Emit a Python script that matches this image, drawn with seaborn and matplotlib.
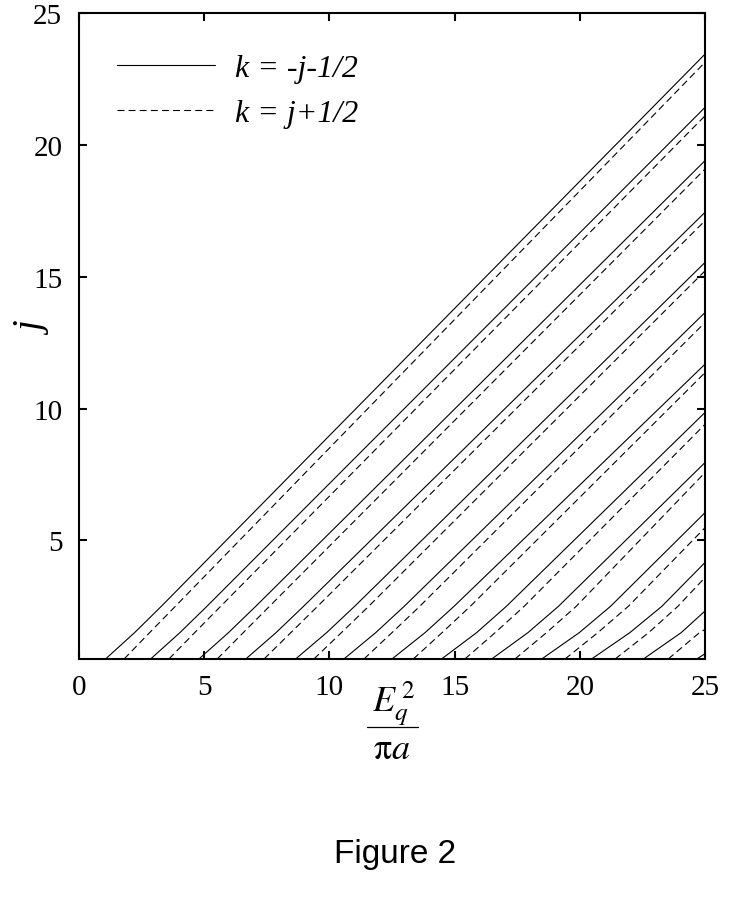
import numpy as np
import pandas as pd
import matplotlib
matplotlib.use("Agg")
import matplotlib.pyplot as plt
from matplotlib.lines import Line2D
import seaborn as sns

nan = np.nan
# j levels of the read vertices
j_levels = [0.5, 1.5, 2.5]

# k = -j-1/2 (solid): x at j=0.5, 1.5, 2.5 and j at the right edge (x=25)
solid_x0 = [1.06, 2.86, 4.79, 6.66, 8.65, 10.58, 12.50, 14.48, 16.48, 18.48, 20.47, 22.54, 24.67]
solid_x1 = [2.22, 4.03, 5.97, 7.87, 9.89, 11.85, 13.82, 15.88, 17.93, 19.98, 22.00, 24.05, nan]
solid_x2 = [3.29, 5.11, 7.06, 8.97, 11.01, 12.99, 14.98, 17.07, 19.15, 21.23, 23.28, nan, nan]
solid_jend = [23.44, 21.42, 19.40, 17.44, 15.54, 13.64, 11.68, 9.85, 7.95, 6.05, 4.16, 2.32, 0.70]

# k = j+1/2 (dashed)
dashed_x0 = [1.80, 3.59, 5.52, 7.39, 9.38, 11.38, 13.35, 15.41, 17.41, 19.41, 21.41, 23.53]
dashed_x1 = [2.82, 4.62, 6.56, 8.46, 10.48, 12.50, 14.50, 16.62, 18.67, 20.72, 22.75, 24.78]
dashed_x2 = [3.85, 5.66, 7.61, 9.53, 11.57, 13.61, 15.63, 17.78, 19.86, 21.94, 23.92, nan]
dashed_jend = [23.13, 21.10, 19.08, 17.12, 15.22, 13.26, 11.36, 9.40, 7.57, 5.48, 3.59, 1.62]

x_edge = 25.0
labels = ["k = -j-1/2", "k = j+1/2"]
x_ticks = [0, 5, 10, 15, 20, 25]
y_ticks = [5, 10, 15, 20, 25]

rows = []
def add_family(name, xs0, xs1, xs2, jend):
    for i in range(len(xs0)):
        cid = f"{name}{i}"
        for xv, jv in zip((xs0[i], xs1[i], xs2[i]), j_levels):
            if not np.isnan(xv):
                rows.append((xv, jv, cid, name))
        rows.append((x_edge, jend[i], cid, name))

add_family("solid", solid_x0, solid_x1, solid_x2, solid_jend)
add_family("dashed", dashed_x0, dashed_x1, dashed_x2, dashed_jend)
df = pd.DataFrame(rows, columns=["x", "j", "curve", "family"])

sns.set_theme(style="ticks")
plt.rcParams["font.family"] = ["Liberation Serif", "DejaVu Serif"]
plt.rcParams["mathtext.fontset"] = "stix"
plt.rcParams["lines.scale_dashes"] = False
for key in ["text.color", "axes.labelcolor", "xtick.color", "ytick.color", "axes.edgecolor"]:
    plt.rcParams[key] = "black"

W, H = 747, 904
fig = plt.figure(figsize=(W/100, H/100), dpi=100)
ax = fig.add_axes([79/W, 1-660/H, (705-79)/W, (660-14)/H])

dash_pat = (5, 3)
sns.lineplot(data=df, x="x", y="j", units="curve", estimator=None,
             style="family", dashes={"solid": "", "dashed": dash_pat},
             color="black", linewidth=0.8, sort=False, legend=False, ax=ax)

ax.set_xlim(0, 25)
ax.set_ylim(0.5, 25)
ax.set_xticks(x_ticks)
ax.set_yticks(y_ticks)
ax.set_xlabel("")
ax.set_ylabel("")
for s in ax.spines.values():
    s.set_linewidth(1.5)
    s.set_color("black")
ax.tick_params(direction="in", length=6, width=1.5, top=True, right=True,
               labelsize=21, colors="black")
ax.tick_params(axis="x", pad=11)
ax.tick_params(axis="y", pad=12)
for lab in ax.get_xticklabels() + ax.get_yticklabels():
    lab.set_family("Liberation Serif")

handles = [Line2D([], [], color="black", lw=0.8),
           Line2D([], [], color="black", lw=0.8, dashes=dash_pat)]
leg = ax.legend(handles, labels, loc="upper left",
                bbox_to_anchor=((117-79)/626, (660-55)/646),
                frameon=False, handlelength=3.07, handletextpad=0.63,
                labelspacing=0.48, borderpad=0, borderaxespad=0,
                prop={"family": "Liberation Serif", "style": "italic", "size": 23})
for t in leg.get_texts():
    t.set_color("black")

# x label drawn as a stacked fraction
fig.text(393/W, 1-711/H, r"$E_q^{\,2}$", ha="center", va="baseline",
         fontsize=26, color="black")
fig.add_artist(Line2D([367/W, 418/W], [1-728/H, 1-728/H], color="black",
                      lw=0.9, transform=fig.transFigure))
fig.text(392/W, 1-759/H, r"$\mathrm{\pi}a$", ha="center", va="baseline",
         fontsize=26, color="black")

fig.text(35/W, 1-330/H, "j", rotation=90, ha="center", va="center",
         fontsize=28, style="italic", family="Liberation Serif", color="black")
fig.text(395/W, 1-855/H, "Figure 2", ha="center", va="center",
         fontsize=24, family="Liberation Sans", color="black")

fig.savefig("out.png", dpi=100, facecolor="white")
